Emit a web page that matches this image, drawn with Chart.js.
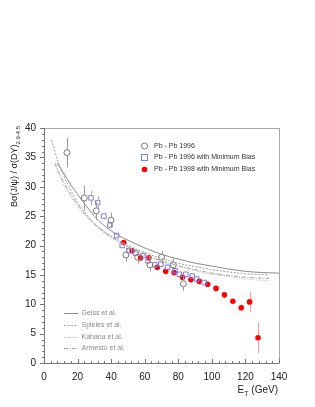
<!DOCTYPE html>
<html><head><meta charset="utf-8">
<script src="https://cdn.jsdelivr.net/npm/chart.js@4/dist/chart.umd.min.js"></script>
<style>html,body{margin:0;padding:0;background:#fff}#wrap{width:315px;height:407px}</style>
</head><body><div id="wrap"><canvas id="c" width="315" height="407"></canvas></div>
<script>
// ---- data ----
const circE = [13.7, 24, 31.1, 39.9, 48.8, 55.8, 63.1, 70, 77, 83];
const circV = [35.8, 28.1, 25.9, 24.3, 18.4, 18.0, 16.7, 18.0, 16.7, 13.5];
const circErr = [2.5, 2.1, 1.5, 1.3, 1.2, 1.1, 1.1, 1.1, 1.1, 1.2];

const sqE = [28, 32, 35.7, 39.3, 43.3, 46.6, 50.8, 54.6, 59, 62, 66, 69.6, 73.6, 78, 80.6, 84.5, 88.3, 91, 95.4];
const sqV = [28.1, 27.3, 25.0, 23.5, 21.7, 20.0, 19.1, 18.7, 18.3, 17.4, 16.7, 16.8, 16.3, 15.7, 15.1, 15.1, 14.8, 14.3, 13.7];
const sqErr = [1.2, 1.0, 0.6, 0.6, 0.5, 0.5, 0.4, 0.4, 0.4, 0.4, 0.4, 0.4, 0.4, 0.4, 0.4, 0.4, 0.4, 0.4, 0.4];

const redE = [47.5, 52.5, 57.5, 62.5, 67.5, 72.5, 77.5, 82.5, 87.5, 92.5, 97.5, 102.5, 107.5, 112.5, 117.5, 122.5, 127.5];
const redV = [20.5, 19.1, 17.9, 17.9, 16.3, 15.6, 15.4, 14.6, 14.2, 13.9, 13.4, 12.7, 11.6, 10.5, 9.4, 10.4, 4.3];
const redErr = [0.3, 0.3, 0.3, 0.3, 0.3, 0.3, 0.3, 0.3, 0.3, 0.3, 0.3, 0.3, 0.4, 0.4, 0.6, 1.7, 2.6];

const geissE = [8, 12, 16, 20, 25, 30, 35, 40, 45, 50, 60, 70, 80, 90, 100, 110, 120, 130, 140];
const geissV = [34, 32.2, 30.3, 28.7, 26.8, 25.0, 23.6, 22.5, 21.6, 20.9, 19.6, 18.5, 17.7, 17.0, 16.5, 16.0, 15.6, 15.4, 15.3];
const spielesE = [4.5, 7, 10, 14, 18, 22, 26, 30, 35, 40, 50, 60, 70, 80, 90, 100, 110, 120, 134];
const spielesV = [38, 35.5, 33, 30.5, 28.3, 26.5, 25.0, 23.8, 22.6, 21.6, 20.0, 18.8, 17.8, 17.0, 16.4, 15.9, 15.5, 15.2, 15.0];
const kahanaE = [6.5, 10, 14, 18, 22, 26, 30, 35, 40, 50, 60, 70, 80, 90, 100, 110, 120, 134];
const kahanaV = [33.5, 31.3, 29.2, 27.4, 25.9, 24.6, 23.5, 22.3, 21.3, 19.6, 18.3, 17.2, 16.4, 15.7, 15.1, 14.7, 14.3, 14.0];
const armestoE = [6.5, 10, 14, 18, 22, 26, 30, 35, 40, 50, 60, 70, 80, 90, 100, 110, 120, 134];
const armestoV = [34, 31.8, 29.6, 27.8, 26.2, 24.9, 23.7, 22.5, 21.5, 19.8, 18.5, 17.4, 16.6, 15.9, 15.3, 14.9, 14.6, 14.4];

const xTicks = [0, 20, 40, 60, 80, 100, 120, 140];
const yTicks = [0, 5, 10, 15, 20, 25, 30, 35, 40];

const markerLabels = ['Pb - Pb 1996', 'Pb - Pb 1996 with Minimum Bias', 'Pb - Pb 1998 with Minimum Bias'];
const modelLabels = ['Geiss et al.', 'Spieles et al.', 'Kahana et al.', 'Armesto et al.'];

const pts = (xs, ys) => xs.map((x, i) => ({x, y: ys[i]}));
const FONT = '"Liberation Sans", Arial, sans-serif';

const lineDs = (label, xs, ys, color, dash) => ({
  type: 'scatter', label, data: pts(xs, ys), showLine: true, tension: 0.35,
  borderColor: color, borderWidth: 1, borderDash: dash, pointRadius: 0, fill: false
});

const modelStyles = [
  {color: '#8a8a8a', dash: []},
  {color: '#9a9a9a', dash: [2, 1.5]},
  {color: '#b0b0b0', dash: [1, 1.5]},
  {color: '#a0a0a0', dash: [4, 1.5, 1, 1.5]}
];

const errPlugin = {
  id: 'errs',
  afterDatasetsDraw(chart) {
    const ctx = chart.ctx, xs = chart.scales.x, ys = chart.scales.y;
    const sets = [
      {E: circE, V: circV, D: circErr, c: '#9a9a9a', r: 3},
      {E: sqE, V: sqV, D: sqErr, c: '#9a9aff', r: 3.2},
      {E: redE, V: redV, D: redErr, c: '#ff9a9a', r: 2.8}
    ];
    ctx.save();
    ctx.lineWidth = 1;
    sets.forEach(s => {
      ctx.strokeStyle = s.c;
      s.E.forEach((e, i) => {
        const px = Math.round(xs.getPixelForValue(e)) + 0.5;
        const py = ys.getPixelForValue(s.V[i]);
        const top = ys.getPixelForValue(s.V[i] + s.D[i]);
        const bot = ys.getPixelForValue(s.V[i] - s.D[i]);
        ctx.beginPath();
        if (py - top > s.r) { ctx.moveTo(px, top); ctx.lineTo(px, py - s.r); }
        if (bot - py > s.r) { ctx.moveTo(px, py + s.r); ctx.lineTo(px, bot); }
        ctx.stroke();
      });
    });
    ctx.restore();
  }
};

const decorPlugin = {
  id: 'decor',
  afterDraw(chart) {
    const ctx = chart.ctx, xs = chart.scales.x, ys = chart.scales.y, a = chart.chartArea;
    ctx.save();
    // frame
    ctx.strokeStyle = '#a8a8a8';
    ctx.lineWidth = 1;
    ctx.strokeRect(Math.round(a.left) + 0.5, Math.round(a.top) + 0.5, Math.round(a.right - a.left), Math.round(a.bottom - a.top));
    ctx.strokeStyle = '#777';
    ctx.beginPath();
    ctx.moveTo(Math.round(a.left) + 0.5, a.top); ctx.lineTo(Math.round(a.left) + 0.5, a.bottom + 1);
    ctx.moveTo(a.left, Math.round(a.bottom) + 0.5); ctx.lineTo(a.right, Math.round(a.bottom) + 0.5);
    ctx.stroke();
    // y ticks (outside, left)
    ctx.beginPath();
    for (let v = 0; v <= 40; v += 1) {
      const py = Math.round(ys.getPixelForValue(v)) + 0.5;
      const len = (v % 5 === 0) ? 4 : 2;
      ctx.moveTo(a.left - len, py); ctx.lineTo(a.left, py);
    }
    // x ticks (inside, upward)
    for (let v = 0; v <= 140; v += 4) {
      const px = Math.round(xs.getPixelForValue(v)) + 0.5;
      const len = (v % 20 === 0) ? 4 : 2;
      ctx.moveTo(px, a.bottom); ctx.lineTo(px, a.bottom - len);
    }
    ctx.stroke();

    // x title
    ctx.fillStyle = '#222';
    ctx.textBaseline = 'alphabetic';
    ctx.textAlign = 'left';
    ctx.font = '10px ' + FONT;
    const t1 = 'E', t2 = 'T', t3 = ' (GeV)';
    ctx.font = '10px ' + FONT; const w1 = ctx.measureText(t1).width;
    ctx.font = '7px ' + FONT; const w2 = ctx.measureText(t2).width;
    ctx.font = '10px ' + FONT; const w3 = ctx.measureText(t3).width;
    let x0 = 278 - (w1 + w2 + w3), yb = 393;
    ctx.fillText(t1, x0, yb);
    ctx.font = '7px ' + FONT; ctx.fillText(t2, x0 + w1, yb + 2.5);
    ctx.font = '10px ' + FONT; ctx.fillText(t3, x0 + w1 + w2, yb);

    // y title (rotated)
    ctx.save();
    ctx.translate(17, 207);
    ctx.rotate(-Math.PI / 2);
    ctx.font = '9px ' + FONT;
    const m1 = 'B\u03c3(J/\u03c8) / \u03c3(DY)';
    ctx.fillText(m1, 0, 0);
    const mw = ctx.measureText(m1).width;
    ctx.font = '6px ' + FONT;
    ctx.fillText('2.9-4.5', mw, 2.5);
    ctx.restore();

    // marker legend
    ctx.font = '7px ' + FONT;
    ctx.textBaseline = 'middle';
    const ly = [146, 157.5, 169.5];
    const lx = 144.5;
    ctx.lineWidth = 1;
    ctx.strokeStyle = '#777';
    ctx.beginPath(); ctx.arc(lx, ly[0], 3, 0, Math.PI * 2); ctx.stroke();
    ctx.strokeStyle = '#7b7bf0';
    ctx.strokeRect(lx - 3, ly[1] - 3, 6, 6);
    ctx.fillStyle = '#ff0000';
    ctx.beginPath(); ctx.arc(lx, ly[2], 2.8, 0, Math.PI * 2); ctx.fill();
    ctx.fillStyle = '#333';
    markerLabels.forEach((t, i) => ctx.fillText(t, 154, ly[i]));

    // model legend
    const my = [313.5, 325.5, 337.5, 348.5];
    modelLabels.forEach((t, i) => {
      const st = modelStyles[i];
      ctx.strokeStyle = st.color;
      ctx.setLineDash(st.dash);
      ctx.beginPath(); ctx.moveTo(64, my[i]); ctx.lineTo(78, my[i]); ctx.stroke();
      ctx.setLineDash([]);
      ctx.fillStyle = '#8a8a8a';
      ctx.fillText(t, 81.5, my[i]);
    });
    ctx.restore();
  }
};

new Chart(document.getElementById('c'), {
  type: 'scatter',
  data: {
    datasets: [
      lineDs(modelLabels[0], geissE, geissV, modelStyles[0].color, modelStyles[0].dash),
      lineDs(modelLabels[1], spielesE, spielesV, modelStyles[1].color, modelStyles[1].dash),
      lineDs(modelLabels[2], kahanaE, kahanaV, modelStyles[2].color, modelStyles[2].dash),
      lineDs(modelLabels[3], armestoE, armestoV, modelStyles[3].color, modelStyles[3].dash),
      {label: markerLabels[0], data: pts(circE, circV), pointStyle: 'circle', pointRadius: 3,
       borderColor: '#777', backgroundColor: 'rgba(0,0,0,0)', borderWidth: 1},
      {label: markerLabels[1], data: pts(sqE, sqV), pointStyle: 'rect', pointRadius: 3.2,
       borderColor: '#7b7bf0', backgroundColor: 'rgba(0,0,0,0)', borderWidth: 1},
      {label: markerLabels[2], data: pts(redE, redV), pointStyle: 'circle', pointRadius: 2.8,
       borderColor: '#ff0000', backgroundColor: '#ff0000', borderWidth: 0}
    ]
  },
  options: {
    responsive: false, animation: false, devicePixelRatio: 1,
    layout: {padding: {top: 128, right: 36, left: 0, bottom: 0}},
    plugins: {legend: {display: false}, tooltip: {enabled: false}, title: {display: false}},
    scales: {
      x: {
        type: 'linear', min: 0, max: 140,
        afterBuildTicks: s => { s.ticks = xTicks.map(v => ({value: v})); },
        afterFit: s => { s.height = 44; },
        grid: {display: true, drawOnChartArea: false, drawTicks: false, color: 'rgba(0,0,0,0)'},
        border: {display: false},
        ticks: {padding: 8, color: '#222', font: {family: FONT, size: 10}, maxRotation: 0, autoSkip: false}
      },
      y: {
        type: 'linear', min: 0, max: 40,
        afterBuildTicks: s => { s.ticks = yTicks.map(v => ({value: v})); },
        afterFit: s => { s.width = 44; },
        grid: {display: true, drawOnChartArea: false, drawTicks: false, color: 'rgba(0,0,0,0)'},
        border: {display: false},
        ticks: {padding: 8, color: '#222', font: {family: FONT, size: 10}, autoSkip: false}
      }
    }
  },
  plugins: [errPlugin, decorPlugin]
});
</script>
</body></html>
